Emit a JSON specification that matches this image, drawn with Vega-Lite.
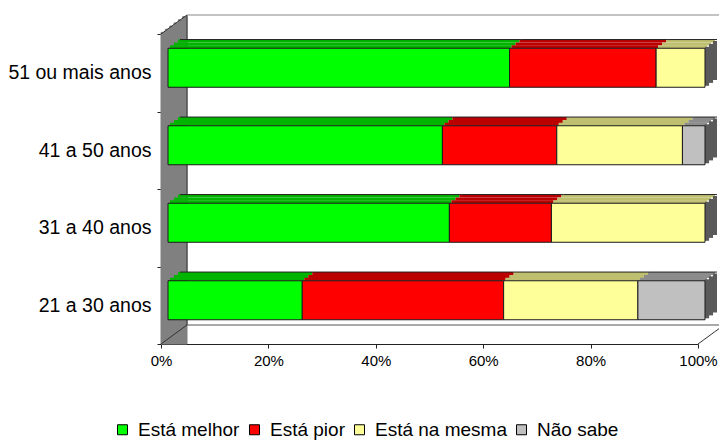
{
  "$schema": "https://vega.github.io/schema/vega-lite/v6.json",
  "width": 537,
  "height": 310,
  "autosize": {"type": "none"},
  "padding": {"left": 161, "top": 34, "right": 21, "bottom": 97},
  "background": "#ffffff",
  "config": {
    "view": {"stroke": null},
    "font": "Liberation Sans",
    "mark": {"opacity": 1},
    "bar": {"opacity": 1},
    "rect": {"opacity": 1},
    "axisX": {
      "grid": false,
      "tickCount": 5,
      "labelExpr": "datum.value + '%'",
      "labelFontSize": 15,
      "labelColor": "#000000",
      "labelPadding": 5,
      "tickSize": 4,
      "tickColor": "#222222",
      "domainColor": "#222222",
      "labelFlush": false
    },
    "axisY": {
      "grid": false,
      "tickBand": "extent",
      "labelFontSize": 19.5,
      "labelColor": "#000000",
      "labelPadding": 6,
      "tickSize": 4,
      "tickColor": "#222222",
      "domainColor": "#222222"
    }
  },
  "data": {
    "values": [
      {"age": "51 ou mais anos", "cat": "Está melhor", "ord": 1, "pct": 63.6},
      {"age": "51 ou mais anos", "cat": "Está pior", "ord": 2, "pct": 27.3},
      {"age": "51 ou mais anos", "cat": "Está na mesma", "ord": 3, "pct": 9.1},
      {"age": "41 a 50 anos", "cat": "Está melhor", "ord": 1, "pct": 51.1},
      {"age": "41 a 50 anos", "cat": "Está pior", "ord": 2, "pct": 21.3},
      {"age": "41 a 50 anos", "cat": "Está na mesma", "ord": 3, "pct": 23.4},
      {"age": "41 a 50 anos", "cat": "Não sabe", "ord": 4, "pct": 4.2},
      {"age": "31 a 40 anos", "cat": "Está melhor", "ord": 1, "pct": 52.4},
      {"age": "31 a 40 anos", "cat": "Está pior", "ord": 2, "pct": 19.0},
      {"age": "31 a 40 anos", "cat": "Está na mesma", "ord": 3, "pct": 28.6},
      {"age": "21 a 30 anos", "cat": "Está melhor", "ord": 1, "pct": 25.0},
      {"age": "21 a 30 anos", "cat": "Está pior", "ord": 2, "pct": 37.5},
      {"age": "21 a 30 anos", "cat": "Está na mesma", "ord": 3, "pct": 25.0},
      {"age": "21 a 30 anos", "cat": "Não sabe", "ord": 4, "pct": 12.5}
    ]
  },
  "transform": [
    {"stack": "pct", "groupby": ["age"], "sort": [{"field": "ord", "order": "ascending"}], "as": ["x0", "x1"]}
  ],
  "layer": [
    {
      "data": {"values": [{}]},
      "mark": {"type": "rect", "fill": "#808080", "stroke": "#808080", "strokeWidth": 1, "opacity": 1, "yOffset": -1.6, "y2Offset": -1.6},
      "encoding": {
        "x": {"datum": 0, "type": "quantitative", "scale": {"domain": [0, 100], "nice": false}, "title": null},
        "x2": {"datum": 0.81}
      }
    },
    {
      "data": {"values": [{}]},
      "mark": {"type": "rect", "fill": "#808080", "stroke": "#808080", "strokeWidth": 1, "opacity": 1, "yOffset": -4.75, "y2Offset": -4.75},
      "encoding": {
        "x": {"datum": 0.81, "type": "quantitative", "scale": {"domain": [0, 100], "nice": false}, "title": null},
        "x2": {"datum": 1.62}
      }
    },
    {
      "data": {"values": [{}]},
      "mark": {"type": "rect", "fill": "#808080", "stroke": "#808080", "strokeWidth": 1, "opacity": 1, "yOffset": -7.9, "y2Offset": -7.9},
      "encoding": {
        "x": {"datum": 1.62, "type": "quantitative", "scale": {"domain": [0, 100], "nice": false}, "title": null},
        "x2": {"datum": 2.43}
      }
    },
    {
      "data": {"values": [{}]},
      "mark": {"type": "rect", "fill": "#808080", "stroke": "#808080", "strokeWidth": 1, "opacity": 1, "yOffset": -11.1, "y2Offset": -11.1},
      "encoding": {
        "x": {"datum": 2.43, "type": "quantitative", "scale": {"domain": [0, 100], "nice": false}, "title": null},
        "x2": {"datum": 3.23}
      }
    },
    {
      "data": {"values": [{}]},
      "mark": {"type": "rect", "fill": "#808080", "stroke": "#808080", "strokeWidth": 1, "opacity": 1, "yOffset": -14.25, "y2Offset": -14.25},
      "encoding": {
        "x": {"datum": 3.23, "type": "quantitative", "scale": {"domain": [0, 100], "nice": false}, "title": null},
        "x2": {"datum": 4.04}
      }
    },
    {
      "data": {"values": [{}]},
      "mark": {"type": "rect", "fill": "#808080", "stroke": "#808080", "strokeWidth": 1, "opacity": 1, "yOffset": -17.4, "y2Offset": -17.4},
      "encoding": {
        "x": {"datum": 4.04, "type": "quantitative", "scale": {"domain": [0, 100], "nice": false}, "title": null},
        "x2": {"datum": 4.842}
      }
    },
    {
      "data": {"values": [{}]},
      "mark": {"type": "rule", "stroke": "#333333", "strokeWidth": 1},
      "encoding": {
        "x": {"datum": 0, "type": "quantitative", "scale": {"domain": [0, 100], "nice": false}, "title": null},
        "x2": {"datum": 4.842},
        "y": {"datum": "51 ou mais anos", "type": "nominal", "bandPosition": 0, "scale": {"domain": ["51 ou mais anos", "41 a 50 anos", "31 a 40 anos", "21 a 30 anos"], "paddingInner": 0, "paddingOuter": 0}, "title": null},
        "y2": {"datum": "51 ou mais anos", "bandPosition": -0.245}
      }
    },
    {
      "data": {"values": [{}]},
      "mark": {"type": "rule", "stroke": "#333333", "strokeWidth": 1},
      "encoding": {
        "x": {"datum": 0, "type": "quantitative", "scale": {"domain": [0, 100], "nice": false}, "title": null},
        "x2": {"datum": 4.842},
        "y": {"datum": "21 a 30 anos", "type": "nominal", "bandPosition": 1, "scale": {"domain": ["51 ou mais anos", "41 a 50 anos", "31 a 40 anos", "21 a 30 anos"], "paddingInner": 0, "paddingOuter": 0}, "title": null},
        "y2": {"datum": "21 a 30 anos", "bandPosition": 0.755}
      }
    },
    {
      "data": {"values": [{}]},
      "mark": {"type": "rule", "stroke": "#333333", "strokeWidth": 1},
      "encoding": {
        "x": {"datum": 4.842, "type": "quantitative", "scale": {"domain": [0, 100], "nice": false}, "title": null},
        "y": {"datum": "51 ou mais anos", "type": "nominal", "bandPosition": -0.245, "scale": {"domain": ["51 ou mais anos", "41 a 50 anos", "31 a 40 anos", "21 a 30 anos"], "paddingInner": 0, "paddingOuter": 0}, "title": null},
        "y2": {"datum": "21 a 30 anos", "bandPosition": 0.755}
      }
    },
    {
      "data": {"values": [{}]},
      "mark": {"type": "rule", "stroke": "#888888", "strokeWidth": 1.2},
      "encoding": {
        "x": {"datum": 4.842, "type": "quantitative", "scale": {"domain": [0, 100], "nice": false}, "title": null},
        "x2": {"datum": 104.842},
        "y": {"datum": "51 ou mais anos", "type": "nominal", "bandPosition": -0.245, "scale": {"domain": ["51 ou mais anos", "41 a 50 anos", "31 a 40 anos", "21 a 30 anos"], "paddingInner": 0, "paddingOuter": 0}, "title": null}
      }
    },
    {
      "data": {"values": [{}]},
      "mark": {"type": "rule", "stroke": "#555555", "strokeWidth": 1},
      "encoding": {
        "x": {"datum": 4.842, "type": "quantitative", "scale": {"domain": [0, 100], "nice": false}, "title": null},
        "x2": {"datum": 104.842},
        "y": {"datum": "21 a 30 anos", "type": "nominal", "bandPosition": 0.755, "scale": {"domain": ["51 ou mais anos", "41 a 50 anos", "31 a 40 anos", "21 a 30 anos"], "paddingInner": 0, "paddingOuter": 0}, "title": null}
      }
    },
    {
      "data": {"values": [{}]},
      "mark": {"type": "rule", "stroke": "#333333", "strokeWidth": 1},
      "encoding": {
        "x": {"datum": 100, "type": "quantitative", "scale": {"domain": [0, 100], "nice": false}, "title": null},
        "x2": {"datum": 104.842},
        "y": {"datum": "21 a 30 anos", "type": "nominal", "bandPosition": 1, "scale": {"domain": ["51 ou mais anos", "41 a 50 anos", "31 a 40 anos", "21 a 30 anos"], "paddingInner": 0, "paddingOuter": 0}, "title": null},
        "y2": {"datum": "21 a 30 anos", "bandPosition": 0.755}
      }
    },
    {
      "mark": {"type": "bar", "size": 2.95, "opacity": 1, "xOffset": 17, "x2Offset": 17, "yOffset": -31.75},
      "encoding": {
        "x": {"field": "x0", "type": "quantitative", "scale": {"domain": [0, 100], "nice": false}, "title": null},
        "x2": {"field": "x1"},
        "y": {"field": "age", "type": "nominal", "scale": {"domain": ["51 ou mais anos", "41 a 50 anos", "31 a 40 anos", "21 a 30 anos"], "paddingInner": 0, "paddingOuter": 0}, "title": null},
        "color": {"field": "cat", "type": "nominal", "scale": {"domain": ["Está melhor", "Está pior", "Está na mesma", "Não sabe"], "range": ["#00B400", "#BB0000", "#BFBF70", "#8C8C8C"]}, "legend": null}
      }
    },
    {
      "mark": {"type": "bar", "size": 2.95, "opacity": 1, "xOffset": 13, "x2Offset": 13, "yOffset": -28.85},
      "encoding": {
        "x": {"field": "x0", "type": "quantitative", "scale": {"domain": [0, 100], "nice": false}, "title": null},
        "x2": {"field": "x1"},
        "y": {"field": "age", "type": "nominal", "scale": {"domain": ["51 ou mais anos", "41 a 50 anos", "31 a 40 anos", "21 a 30 anos"], "paddingInner": 0, "paddingOuter": 0}, "title": null},
        "color": {"field": "cat", "type": "nominal", "scale": {"domain": ["Está melhor", "Está pior", "Está na mesma", "Não sabe"], "range": ["#00B400", "#BB0000", "#BFBF70", "#8C8C8C"]}, "legend": null}
      }
    },
    {
      "mark": {"type": "bar", "size": 2.95, "opacity": 1, "xOffset": 9, "x2Offset": 9, "yOffset": -25.95},
      "encoding": {
        "x": {"field": "x0", "type": "quantitative", "scale": {"domain": [0, 100], "nice": false}, "title": null},
        "x2": {"field": "x1"},
        "y": {"field": "age", "type": "nominal", "scale": {"domain": ["51 ou mais anos", "41 a 50 anos", "31 a 40 anos", "21 a 30 anos"], "paddingInner": 0, "paddingOuter": 0}, "title": null},
        "color": {"field": "cat", "type": "nominal", "scale": {"domain": ["Está melhor", "Está pior", "Está na mesma", "Não sabe"], "range": ["#00B400", "#BB0000", "#BFBF70", "#8C8C8C"]}, "legend": null}
      }
    },
    {
      "mark": {"type": "rule", "stroke": "#222222", "strokeWidth": 1, "xOffset": 19, "x2Offset": 19, "yOffset": -33.2},
      "encoding": {
        "x": {"field": "x0", "type": "quantitative", "scale": {"domain": [0, 100], "nice": false}, "title": null},
        "x2": {"field": "x1"},
        "y": {"field": "age", "type": "nominal", "scale": {"domain": ["51 ou mais anos", "41 a 50 anos", "31 a 40 anos", "21 a 30 anos"], "paddingInner": 0, "paddingOuter": 0}, "title": null}
      }
    },
    {
      "transform": [{"filter": "datum.ord == 1"}],
      "mark": {"type": "bar", "size": 39, "fill": "#5A5A5A", "opacity": 1, "xOffset": 7, "x2Offset": 7, "yOffset": -6.45},
      "encoding": {
        "x": {"datum": 100, "type": "quantitative", "scale": {"domain": [0, 100], "nice": false}, "title": null},
        "x2": {"datum": 100.76},
        "y": {"field": "age", "type": "nominal", "scale": {"domain": ["51 ou mais anos", "41 a 50 anos", "31 a 40 anos", "21 a 30 anos"], "paddingInner": 0, "paddingOuter": 0}, "title": null}
      }
    },
    {
      "transform": [{"filter": "datum.ord == 1"}],
      "mark": {"type": "bar", "size": 39, "fill": "#5A5A5A", "opacity": 1, "xOffset": 7, "x2Offset": 7, "yOffset": -9.35},
      "encoding": {
        "x": {"datum": 100.74, "type": "quantitative", "scale": {"domain": [0, 100], "nice": false}, "title": null},
        "x2": {"datum": 101.5},
        "y": {"field": "age", "type": "nominal", "scale": {"domain": ["51 ou mais anos", "41 a 50 anos", "31 a 40 anos", "21 a 30 anos"], "paddingInner": 0, "paddingOuter": 0}, "title": null}
      }
    },
    {
      "transform": [{"filter": "datum.ord == 1"}],
      "mark": {"type": "bar", "size": 39, "fill": "#5A5A5A", "opacity": 1, "xOffset": 7, "x2Offset": 7, "yOffset": -12.25},
      "encoding": {
        "x": {"datum": 101.48, "type": "quantitative", "scale": {"domain": [0, 100], "nice": false}, "title": null},
        "x2": {"datum": 102.235},
        "y": {"field": "age", "type": "nominal", "scale": {"domain": ["51 ou mais anos", "41 a 50 anos", "31 a 40 anos", "21 a 30 anos"], "paddingInner": 0, "paddingOuter": 0}, "title": null}
      }
    },
    {
      "mark": {"type": "bar", "size": 39, "opacity": 1, "stroke": "#1A1A1A", "strokeWidth": 1, "xOffset": 7, "x2Offset": 7, "yOffset": -5},
      "encoding": {
        "x": {"field": "x0", "type": "quantitative", "scale": {"domain": [0, 100], "nice": false}, "title": null},
        "x2": {"field": "x1"},
        "y": {"field": "age", "type": "nominal", "scale": {"domain": ["51 ou mais anos", "41 a 50 anos", "31 a 40 anos", "21 a 30 anos"], "paddingInner": 0, "paddingOuter": 0}, "title": null},
        "color": {
          "field": "cat",
          "type": "nominal",
          "scale": {"domain": ["Está melhor", "Está pior", "Está na mesma", "Não sabe"], "range": ["#00FF00", "#FF0000", "#FFFF99", "#C0C0C0"]},
          "legend": {
            "title": null,
            "orient": "none",
            "direction": "horizontal",
            "legendX": -48,
            "legendY": 386,
            "symbolType": "square",
            "symbolSize": 100,
            "symbolStrokeColor": "#000000",
            "symbolStrokeWidth": 1,
            "symbolOpacity": 1,
            "labelFontSize": 19,
            "labelColor": "#000000",
            "labelOffset": 6,
            "columnPadding": 5
          }
        }
      }
    }
  ],
  "resolve": {"scale": {"color": "independent"}}
}
